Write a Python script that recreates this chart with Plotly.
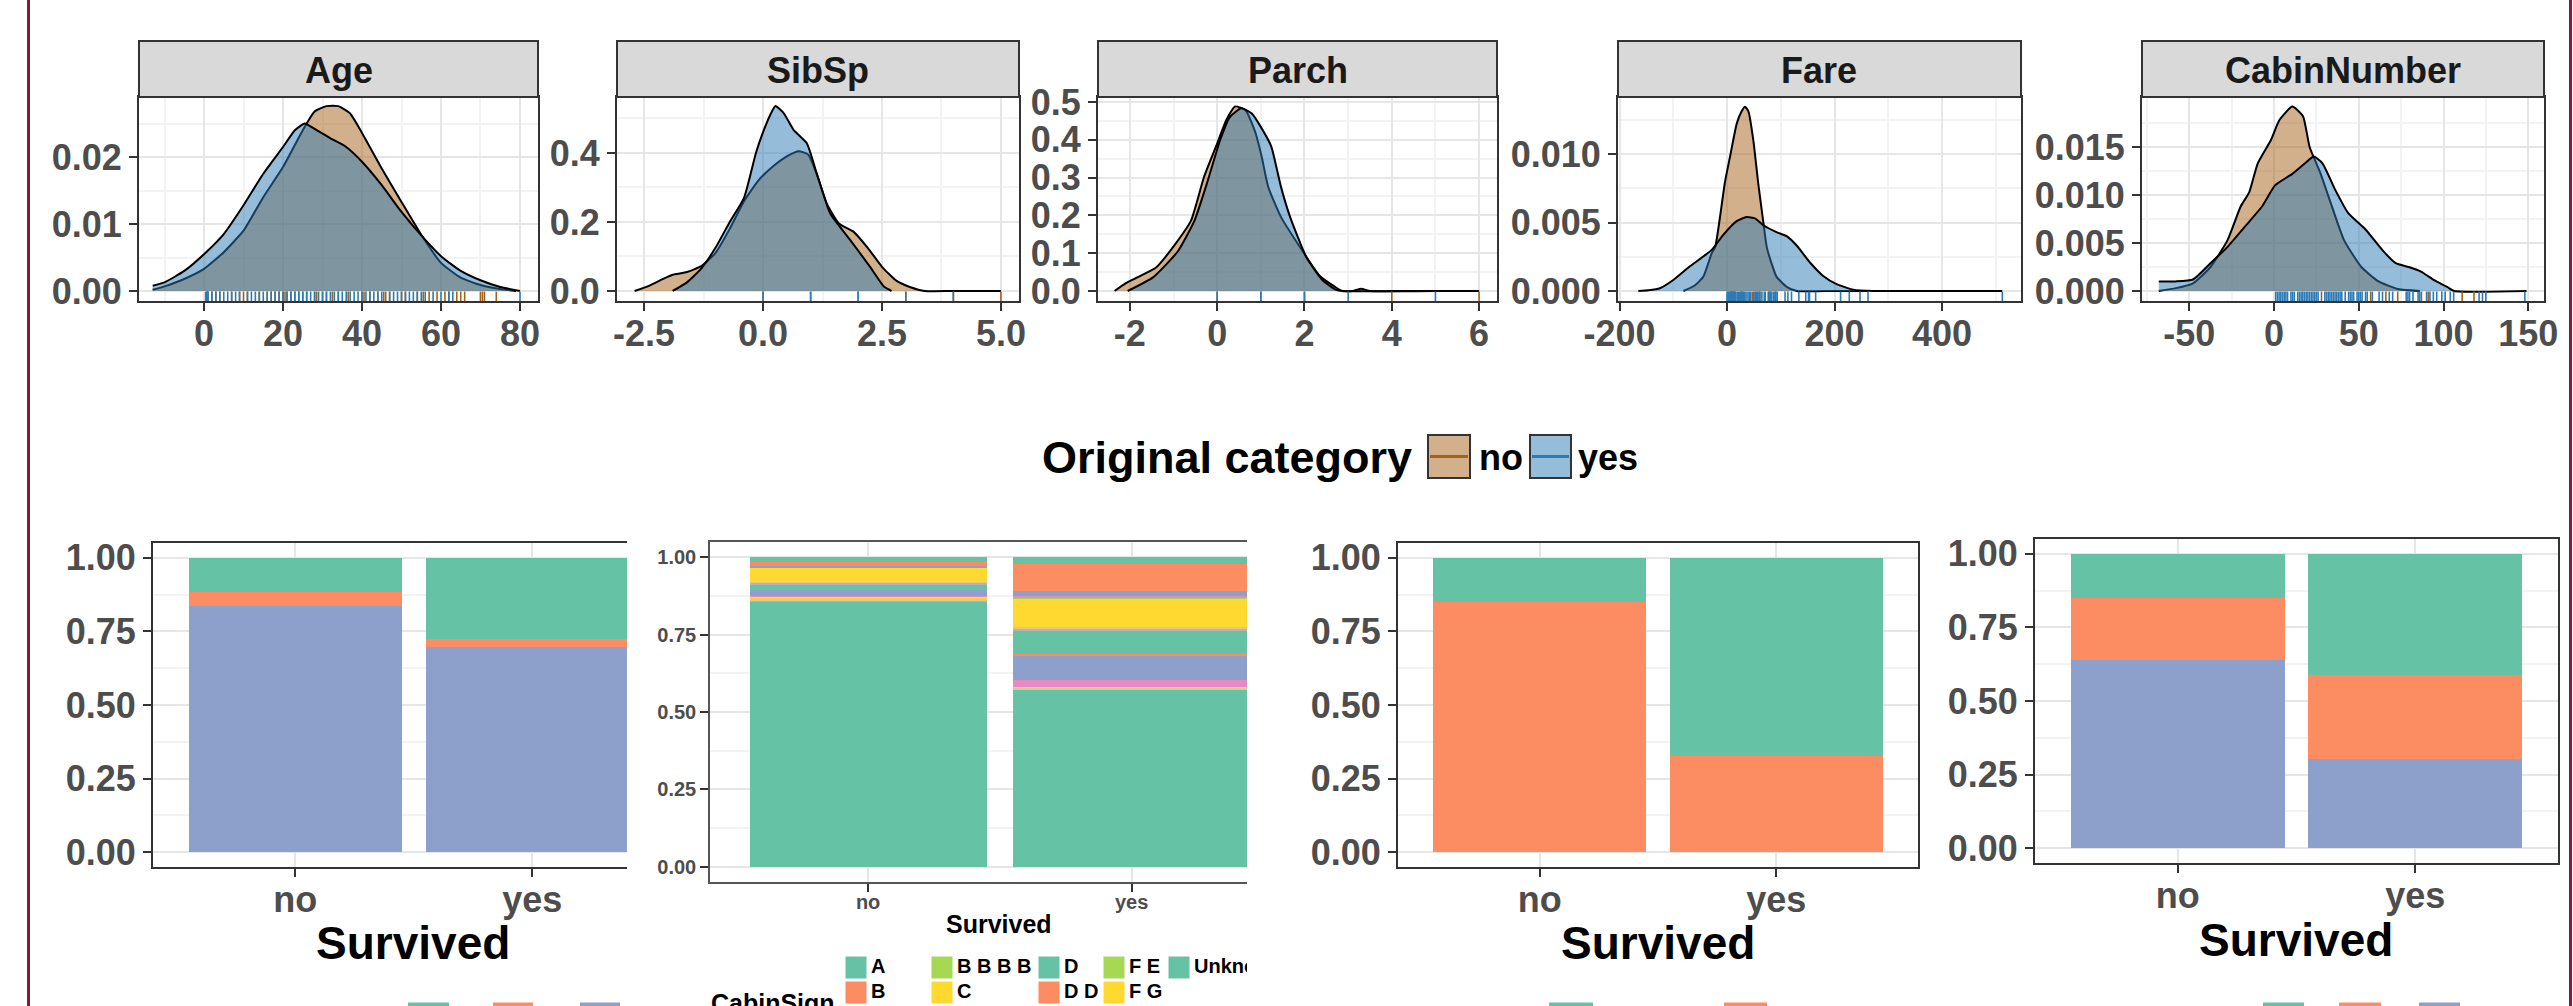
import plotly.graph_objects as go

W, H = 2573, 1006
FONT = "Liberation Sans, Arial, sans-serif"
AX_TXT = "#4d4d4d"


def fx(p):
    return p / W


def fy(p):
    return 1 - p / H


# ============================== DATA ==============================
survived_levels = ["no", "yes"]
group_line = {"no": "#a6611a", "yes": "#2c7bb6"}
group_fill = {"no": "rgba(166,97,26,0.5)", "yes": "rgba(44,123,182,0.5)"}

# ---- Age ----
age_x_no = [-13, -10, -5, 0, 5, 10, 15, 20, 25, 28, 31, 34, 37, 40, 45, 50, 55, 60, 65, 70, 75, 79]
age_d_no = [0.0002, 0.0007, 0.0018, 0.0033, 0.0058, 0.0090, 0.0140, 0.0185, 0.0240, 0.0268, 0.0276,
            0.0276, 0.0265, 0.0236, 0.0183, 0.0133, 0.0084, 0.0042, 0.0020, 0.0009, 0.0003, 0.0]
age_x_yes = [-13, -10, -5, 0, 5, 10, 15, 20, 23, 25.5, 28, 32, 36, 40, 45, 50, 55, 60, 65, 70, 75, 80]
age_d_yes = [0.0008, 0.0013, 0.0030, 0.0055, 0.0085, 0.0128, 0.0175, 0.0215, 0.0240, 0.0250, 0.0242,
             0.0228, 0.0215, 0.0193, 0.0158, 0.0118, 0.0083, 0.0052, 0.0030, 0.0016, 0.0006, 0.0]
age_rug_no = [1, 2, 3, 4, 7, 9, 10, 11, 14, 16, 17, 18, 19, 20, 20.5, 21, 22, 23, 24, 25, 26, 28, 28.5,
              30, 31, 32.5, 34, 36.5, 40, 40.5, 42, 44, 45.5, 46, 47, 50, 51, 54, 55.5, 57, 59, 61, 62,
              64, 65, 66, 70, 70.5, 71, 74]
age_rug_yes = [0.42, 0.67, 0.83, 0.92, 1, 2, 3, 4, 5, 6, 7, 8, 9, 11, 12, 13, 14, 15, 16, 17, 18, 19,
               20, 21, 22, 23, 24, 25, 26, 27, 28, 29, 30, 31, 32, 33, 34, 35, 36, 37, 38, 39, 40, 41,
               42, 43, 44, 45, 47, 48, 49, 50, 51, 52, 53, 54, 55, 56, 58, 60, 62, 63, 80]
age_xticks = [0, 20, 40, 60, 80]
age_xtick_labels = ["0", "20", "40", "60", "80"]
age_yticks = [0.0, 0.01, 0.02]
age_ytick_labels = ["0.00", "0.01", "0.02"]

# ---- SibSp ----
sibsp_x_no = [-2.7, -2.4, -2.1, -1.9, -1.6, -1.3, -1.0, -0.7, -0.4, -0.1, 0.2, 0.5, 0.75, 0.95, 1.15,
              1.35, 1.6, 1.9, 2.2, 2.5, 2.8, 3.1, 3.4, 4.0, 5.0]
sibsp_d_no = [0.0, 0.015, 0.035, 0.047, 0.055, 0.072, 0.11, 0.18, 0.26, 0.32, 0.36, 0.39, 0.405, 0.395,
              0.33, 0.25, 0.195, 0.172, 0.125, 0.07, 0.03, 0.011, 0.0, 0.0, 0.0]
sibsp_x_yes = [-1.9, -1.6, -1.3, -1.0, -0.7, -0.4, -0.15, 0.0, 0.15, 0.26, 0.43, 0.64, 0.92, 1.13, 1.41,
               1.83, 2.25, 2.54, 2.7]
sibsp_d_yes = [0.0, 0.025, 0.065, 0.125, 0.2, 0.27, 0.40, 0.46, 0.51, 0.536, 0.516, 0.467, 0.428, 0.34,
               0.225, 0.148, 0.07, 0.013, 0.0]
sibsp_rug_no = [0, 1, 2, 3, 4, 5]
sibsp_rug_yes = [0, 1, 2, 3, 4]
sibsp_xticks = [-2.5, 0.0, 2.5, 5.0]
sibsp_xtick_labels = ["-2.5", "0.0", "2.5", "5.0"]
sibsp_yticks = [0.0, 0.2, 0.4]
sibsp_ytick_labels = ["0.0", "0.2", "0.4"]

# ---- Parch ----
parch_x_no = [-2.35, -2.1, -1.83, -1.4, -0.96, -0.6, -0.3, 0.0, 0.21, 0.41, 0.65, 0.87, 1.02, 1.17,
              1.46, 1.97, 2.34, 2.71, 2.86, 3.1, 3.3, 3.5, 4.5, 6.0]
parch_d_no = [0.0, 0.02, 0.036, 0.062, 0.124, 0.186, 0.302, 0.39, 0.452, 0.488, 0.478, 0.421, 0.355,
              0.275, 0.196, 0.103, 0.041, 0.01, 0.0, 0.0, 0.006, 0.0, 0.0, 0.0]
parch_x_yes = [-2.05, -1.47, -0.9, -0.52, -0.22, 0.07, 0.29, 0.55, 0.8, 1.02, 1.24, 1.46, 1.67, 2.04,
               2.41, 2.71, 2.9, 5.0]
parch_d_yes = [0.0, 0.036, 0.105, 0.186, 0.29, 0.40, 0.46, 0.483, 0.469, 0.43, 0.382, 0.276, 0.196,
               0.09, 0.029, 0.004, 0.0, 0.0]
parch_rug_no = [0, 1, 2, 4, 6]
parch_rug_yes = [0, 1, 2, 3, 5]
parch_xticks = [-2, 0, 2, 4, 6]
parch_xtick_labels = ["-2", "0", "2", "4", "6"]
parch_yticks = [0.0, 0.1, 0.2, 0.3, 0.4, 0.5]
parch_ytick_labels = ["0.0", "0.1", "0.2", "0.3", "0.4", "0.5"]

# ---- Fare ----
fare_x_no = [-81, -60, -44, -28.5, -22, -13, -4, 5.6, 18, 27, 33.5, 40, 49, 58, 68, 74, 83, 92, 111,
             130, 200, 263]
fare_d_no = [0.0, 0.0004, 0.00105, 0.00275, 0.0032, 0.0054, 0.0079, 0.0098, 0.0122, 0.0131, 0.01345,
             0.0131, 0.0110, 0.0079, 0.0049, 0.0032, 0.0020, 0.00105, 0.0003, 0.0, 0.0, 0.0]
fare_x_yes = [-165, -146, -125, -100, -69, -28.5, -7, 18, 36.6, 52, 67.6, 92, 111, 130, 154, 179, 204,
              235, 272, 350, 512]
fare_d_yes = [0.0, 0.00005, 0.0002, 0.0008, 0.0018, 0.0030, 0.0041, 0.0051, 0.0054, 0.0053, 0.0048,
              0.0043, 0.0040, 0.0033, 0.0021, 0.0011, 0.0005, 0.0001, 0.0, 0.0, 0.0]
fare_rug_no = [4.0, 7.25, 7.9, 13, 26, 47.1, 61.2]
fare_rug_yes = [0, 1.5, 3, 5, 7.25, 7.75, 7.9, 8.05, 9.5, 10.5, 11.1, 12.3, 13, 14.5, 15.2, 16.7,
                19.5, 21, 23, 26, 26.55, 27.7, 29, 30.5, 31, 33, 35.5, 39, 41.6, 44, 49.5, 52, 53.1,
                55, 56.5, 57, 59.4, 61.2, 65, 69.3, 71.3, 76.7, 77.9, 79.2, 80, 82.2, 83.2, 86.5,
                89.1, 90, 91.1, 93.5, 108, 113.3, 120, 133.7, 146.5, 151.6, 153.5, 164.9, 211.3,
                227.5, 247.5, 262.4, 512.3]
fare_xticks = [-200, 0, 200, 400]
fare_xtick_labels = ["-200", "0", "200", "400"]
fare_yticks = [0.0, 0.005, 0.010]
fare_ytick_labels = ["0.000", "0.005", "0.010"]

# ---- CabinNumber ----
cabin_x_no = [-68, -57.9, -47.8, -37.5, -27.4, -19.7, -14.6, -9.6, -1.9, 3.2, 10.8, 17.1, 21, 27.3,
              33.6, 41.3, 51.5, 61.7, 73.2, 86]
cabin_d_no = [0.0, 0.0003, 0.0008, 0.0025, 0.0053, 0.0088, 0.0103, 0.0133, 0.0157, 0.0178, 0.0192,
              0.0182, 0.0150, 0.0123, 0.0091, 0.0053, 0.0025, 0.0010, 0.0002, 0.0]
cabin_x_yes = [-68, -57.9, -47.8, -37.5, -27.4, -17.2, -7.1, 0.6, 10.8, 18.3, 23.5, 28.6, 36.2, 43.8,
               54, 64.2, 71.8, 79.5, 87, 94.7, 102.4, 106.3, 149]
cabin_d_yes = [0.001, 0.001, 0.0012, 0.0029, 0.0046, 0.0067, 0.0088, 0.0110, 0.0122, 0.0133, 0.0140,
               0.0133, 0.0105, 0.0081, 0.0064, 0.0042, 0.0029, 0.0025, 0.0020, 0.0011, 0.0004, 0.0,
               0.0]
cabin_rug_no = [28, 57, 66, 73, 87, 91, 111, 118]
cabin_rug_yes = [1, 2, 3, 4, 5, 6, 7, 8, 10, 11, 12, 14, 15, 16, 17, 18, 19, 20, 21, 22, 23, 24, 25,
                 26, 30, 31, 32, 33, 34, 35, 36, 37, 38, 39, 40, 42, 44, 45, 46, 47, 49, 50, 51, 52,
                 54, 55, 58, 62, 64, 68, 70, 78, 79, 80, 82, 85, 86, 90, 92, 94, 96, 99, 101, 104,
                 106, 121, 123, 125, 148]
cabin_xticks = [-50, 0, 50, 100, 150]
cabin_xtick_labels = ["-50", "0", "50", "100", "150"]
cabin_yticks = [0.0, 0.005, 0.010, 0.015]
cabin_ytick_labels = ["0.000", "0.005", "0.010", "0.015"]

# ---- stacked proportion bars ----
embarked_levels = ["C", "Q", "S"]
embarked_no = [0.118, 0.046, 0.836]
embarked_yes = [0.277, 0.027, 0.696]

cabin_levels = ["A", "B", "B B", "B B B", "B B B B", "C", "C C", "C C C", "D", "D D", "E", "F",
                "F E", "F G", "G", "T", "Unknown"]
cabin_no = [0.014, 0.015, 0.0065, 0.0, 0.0, 0.043, 0.004, 0.005, 0.018, 0.0, 0.019, 0.002, 0.0,
            0.0075, 0.004, 0.004, 0.858]
cabin_yes = [0.0226, 0.086, 0.017, 0.003, 0.0065, 0.089, 0.008, 0.007, 0.073, 0.004, 0.080, 0.0226,
             0.0, 0.0025, 0.005, 0.0, 0.5738]

sex_levels = ["female", "male"]
sex_no = [0.151, 0.849]
sex_yes = [0.672, 0.328]

pclass_levels = ["1", "2", "3"]
pclass_no = [0.149, 0.211, 0.640]
pclass_yes = [0.413, 0.285, 0.302]

prop_ticks = [0.0, 0.25, 0.5, 0.75, 1.0]
prop_tick_labels = ["0.00", "0.25", "0.50", "0.75", "1.00"]

set2 = ["#66c2a5", "#fc8d62", "#8da0cb", "#e78ac3", "#a6d854", "#ffd92f", "#e5c494", "#b3b3b3"]

density_panels = [
    dict(name="Age", no=(age_x_no, age_d_no), yes=(age_x_yes, age_d_yes),
         rug={"no": age_rug_no, "yes": age_rug_yes},
         xt=(age_xticks, age_xtick_labels), yt=(age_yticks, age_ytick_labels)),
    dict(name="SibSp", no=(sibsp_x_no, sibsp_d_no), yes=(sibsp_x_yes, sibsp_d_yes),
         rug={"no": sibsp_rug_no, "yes": sibsp_rug_yes},
         xt=(sibsp_xticks, sibsp_xtick_labels), yt=(sibsp_yticks, sibsp_ytick_labels)),
    dict(name="Parch", no=(parch_x_no, parch_d_no), yes=(parch_x_yes, parch_d_yes),
         rug={"no": parch_rug_no, "yes": parch_rug_yes},
         xt=(parch_xticks, parch_xtick_labels), yt=(parch_yticks, parch_ytick_labels)),
    dict(name="Fare", no=(fare_x_no, fare_d_no), yes=(fare_x_yes, fare_d_yes),
         rug={"no": fare_rug_no, "yes": fare_rug_yes},
         xt=(fare_xticks, fare_xtick_labels), yt=(fare_yticks, fare_ytick_labels)),
    dict(name="CabinNumber", no=(cabin_x_no, cabin_d_no), yes=(cabin_x_yes, cabin_d_yes),
         rug={"no": cabin_rug_no, "yes": cabin_rug_yes},
         xt=(cabin_xticks, cabin_xtick_labels), yt=(cabin_yticks, cabin_ytick_labels)),
]

bar_panels = [
    dict(levels=embarked_levels, no=embarked_no, yes=embarked_yes),
    dict(levels=cabin_levels, no=cabin_no, yes=cabin_yes),
    dict(levels=sex_levels, no=sex_no, yes=sex_yes),
    dict(levels=pclass_levels, no=pclass_no, yes=pclass_yes),
]

# ============================== LAYOUT SPECS ==============================
TOP_Y0, TOP_Y1, STRIP_Y0 = 97, 301, 41
top_specs = [
    dict(x0=139, x1=538, xr=[-16.46, 84.56], yr=[-0.00149, 0.02896]),
    dict(x0=617, x1=1019, xr=[-3.07, 5.38], yr=[-0.029, 0.562]),
    dict(x0=1098, x1=1497, xr=[-2.73, 6.41], yr=[-0.0265, 0.513]),
    dict(x0=1618, x1=2021, xr=[-202.8, 547.0], yr=[-0.00073, 0.01416]),
    dict(x0=2142, x1=2544, xr=[-77.9, 159.3], yr=[-0.00104, 0.0202]),
]
bot_specs = [
    dict(x0=153, x1=627, y0=543, y1=867, xr=[-0.6, 1.4], fs=36, tfs=46, ty=943, tx=413, lw=2, lc="#333333", mirror_y=False, so=-8),
    dict(x0=710, x1=1247, y0=542, y1=882, xr=[-0.6, 1.438], fs=20, tfs=25, ty=924, tx=999, lw=1.5, lc="#555555", mirror_y=False, so=-7),
    dict(x0=1398, x1=1918, y0=543, y1=867, xr=[-0.6, 1.6], fs=36, tfs=46, ty=943, tx=1658, lw=2, lc="#333333", mirror_y=True, so=-8),
    dict(x0=2035, x1=2558, y0=539, y1=863, xr=[-0.6, 1.6], fs=36, tfs=46, ty=940, tx=2296, lw=2, lc="#333333", mirror_y=True, so=-8),
]


def minors(ticks, rng):
    step = ticks[1] - ticks[0]
    cand = [ticks[0] - step / 2] + [t + step / 2 for t in ticks]
    return [c for c in cand if rng[0] <= c <= rng[1]]


def base_axis(size, lw=2, lc="#333333"):
    return dict(showline=True, linecolor=lc, linewidth=lw, ticks="outside", ticklen=8,
                tickwidth=2, tickcolor="#333333", showgrid=True, gridcolor="#e6e6e6",
                gridwidth=2, zeroline=False, fixedrange=True, automargin=False,
                tickfont=dict(family=FONT, size=size, color=AX_TXT, weight="bold"))


fig = go.Figure()
layout = dict(width=W, height=H, margin=dict(l=0, r=0, t=0, b=0, pad=0, autoexpand=False),
              autosize=False, paper_bgcolor="white", plot_bgcolor="white", showlegend=False,
              barmode="stack", hovermode=False)
shapes, annotations = [], []

# ---------------- top density panels ----------------
for i, (panel, spec) in enumerate(zip(density_panels, top_specs)):
    n = i + 1
    xa, ya = ("x" if n == 1 else f"x{n}"), ("y" if n == 1 else f"y{n}")
    xk, yk = ("xaxis" if n == 1 else f"xaxis{n}"), ("yaxis" if n == 1 else f"yaxis{n}")
    xt, xtl = panel["xt"]
    yt, ytl = panel["yt"]
    ax = base_axis(36)
    ax.update(domain=[fx(spec["x0"]), fx(spec["x1"])], range=spec["xr"], anchor=ya, mirror=True,
              tickmode="array", tickvals=xt, ticktext=xtl, ticklabelstandoff=-8,
              minor=dict(tickmode="array", tickvals=minors(xt, spec["xr"]), showgrid=True,
                         gridcolor="#f3f3f3", gridwidth=1.5))
    ay = base_axis(36)
    ay.update(domain=[fy(TOP_Y1), fy(TOP_Y0)], range=spec["yr"], anchor=xa, mirror=True,
              tickmode="array", tickvals=yt, ticktext=ytl,
              minor=dict(tickmode="array", tickvals=minors(yt, spec["yr"]), showgrid=True,
                         gridcolor="#f3f3f3", gridwidth=1.5))
    layout[xk] = ax
    layout[yk] = ay

    for g in survived_levels:
        xs, ds = panel[g]
        fig.add_trace(go.Scatter(x=xs, y=ds, mode="lines", xaxis=xa, yaxis=ya,
                                 line=dict(color="black", width=2, shape="spline", smoothing=0.5),
                                 fill="tozeroy", fillcolor=group_fill[g], hoverinfo="skip"))
    yr = spec["yr"]
    rug_y = yr[0] + 4.5 / (TOP_Y1 - TOP_Y0) * (yr[1] - yr[0])
    for g in survived_levels:
        vals = panel["rug"][g]
        fig.add_trace(go.Scatter(x=vals, y=[rug_y] * len(vals), mode="markers", xaxis=xa, yaxis=ya,
                                 marker=dict(symbol="line-ns", size=7,
                                             line=dict(width=1.6, color=group_line[g])),
                                 hoverinfo="skip"))
    # strip
    shapes.append(dict(type="rect", xref="paper", yref="paper", x0=fx(spec["x0"]), x1=fx(spec["x1"]),
                       y0=fy(TOP_Y0), y1=fy(STRIP_Y0), fillcolor="#d9d9d9",
                       line=dict(color="#333333", width=2), layer="above"))
    annotations.append(dict(xref="paper", yref="paper", x=fx((spec["x0"] + spec["x1"]) / 2),
                            y=fy(70), text=panel["name"], showarrow=False, xanchor="center",
                            yanchor="middle",
                            font=dict(family=FONT, size=36, color="#1a1a1a", weight="bold")))

# ---------------- bottom stacked bars ----------------
for j, (panel, spec) in enumerate(zip(bar_panels, bot_specs)):
    n = j + 6
    xa, ya, xk, yk = f"x{n}", f"y{n}", f"xaxis{n}", f"yaxis{n}"
    ax = base_axis(spec["fs"], spec["lw"], spec["lc"])
    ax.update(domain=[fx(spec["x0"]), fx(spec["x1"])], range=spec["xr"], anchor=ya, mirror=True,
              type="category", categoryorder="array", categoryarray=survived_levels,
              ticklabelstandoff=spec["so"])
    ay = base_axis(spec["fs"], spec["lw"], spec["lc"])
    ay.update(domain=[fy(spec["y1"]), fy(spec["y0"])], range=[-0.05, 1.05], anchor=xa,
              mirror=spec["mirror_y"], tickmode="array", tickvals=prop_ticks,
              ticktext=prop_tick_labels,
              minor=dict(tickmode="array", tickvals=minors(prop_ticks, [-0.05, 1.05]),
                         showgrid=True, gridcolor="#f3f3f3", gridwidth=1.5))
    layout[xk] = ax
    layout[yk] = ay
    levels = panel["levels"]
    for k in range(len(levels) - 1, -1, -1):
        fig.add_trace(go.Bar(x=survived_levels, y=[panel["no"][k], panel["yes"][k]], width=0.9,
                             name=levels[k], marker=dict(color=set2[k % 8], line=dict(width=0)),
                             xaxis=xa, yaxis=ya, hoverinfo="skip"))
    annotations.append(dict(xref="paper", yref="paper", x=fx(spec["tx"]), y=fy(spec["ty"]),
                            text="Survived", showarrow=False, xanchor="center", yanchor="middle",
                            font=dict(family=FONT, size=spec["tfs"], color="black", weight="bold")))

# ---------------- CabinSign legend (clipped overlay in pixel units) ----------------
layout["xaxis10"] = dict(domain=[fx(700), fx(1247)], range=[700, 1247], visible=False,
                         anchor="y10", fixedrange=True, automargin=False)
layout["yaxis10"] = dict(domain=[0, fy(940)], range=[1006, 940], visible=False, anchor="x10",
                         fixedrange=True, automargin=False)
col_x = [845, 931, 1038, 1103, 1168]
row_y = [956, 981, 1006, 1031]
lab_x, lab_y = [], []
for i, lev in enumerate(cabin_levels):
    kx, ky = col_x[i // 4], row_y[i % 4]
    shapes.append(dict(type="rect", xref="x10", yref="y10", x0=kx, x1=kx + 22, y0=ky, y1=ky + 23,
                       fillcolor=set2[i % 8], line=dict(color="white", width=1)))
    lab_x.append(kx + 26)
    lab_y.append(ky + 11.5)
fig.add_trace(go.Scatter(x=lab_x, y=lab_y, text=cabin_levels, mode="text", xaxis="x10", yaxis="y10",
                         textposition="middle right", hoverinfo="skip",
                         textfont=dict(family=FONT, size=20, color="black", weight="bold")))
fig.add_trace(go.Scatter(x=[711], y=[1006], text=["CabinSign"], mode="text", xaxis="x10",
                         yaxis="y10", textposition="middle right", hoverinfo="skip",
                         textfont=dict(family=FONT, size=25, color="black", weight="bold")))

# ---------------- clipped legend keys of other bar panels (bottom edge) ----------------
edge_keys = [[(408, 449), (493, 533), (580, 620)],
             [(1549, 1593), (1724, 1767)],
             [(2263, 2304), (2339, 2381), (2419, 2460)]]
for keys in edge_keys:
    for k, (a, b) in enumerate(keys):
        shapes.append(dict(type="rect", xref="paper", yref="paper", x0=fx(a), x1=fx(b),
                           y0=fy(1040), y1=fy(1002.5), fillcolor=set2[k], line=dict(width=0)))

# ---------------- "Original category" legend ----------------
annotations.append(dict(xref="paper", yref="paper", x=fx(1040), y=fy(458), text="Original category",
                        showarrow=False, xanchor="left", yanchor="middle",
                        font=dict(family=FONT, size=45, color="black", weight="bold")))
legend_boxes = {"no": (1428, 1470, 1477), "yes": (1530, 1571, 1576)}
for g in survived_levels:
    b0, b1, tx = legend_boxes[g]
    shapes.append(dict(type="rect", xref="paper", yref="paper", x0=fx(b0), x1=fx(b1), y0=fy(478),
                       y1=fy(435), fillcolor=group_fill[g], line=dict(color="#333333", width=2)))
    shapes.append(dict(type="line", xref="paper", yref="paper", x0=fx(b0 + 2), x1=fx(b1 - 2),
                       y0=fy(456.5), y1=fy(456.5), line=dict(color=group_line[g], width=3)))
    annotations.append(dict(xref="paper", yref="paper", x=fx(tx), y=fy(458), text=g,
                            showarrow=False, xanchor="left", yanchor="middle",
                            font=dict(family=FONT, size=36, color="black", weight="bold")))

# ---------------- outer dark-red border lines ----------------
for bx in (28.5, 2570.5):
    shapes.append(dict(type="line", xref="paper", yref="paper", x0=fx(bx), x1=fx(bx), y0=0, y1=1,
                       line=dict(color="#7a2233", width=3)))

layout["shapes"] = shapes
layout["annotations"] = annotations
fig.update_layout(**layout)
fig.write_html("out.html")
